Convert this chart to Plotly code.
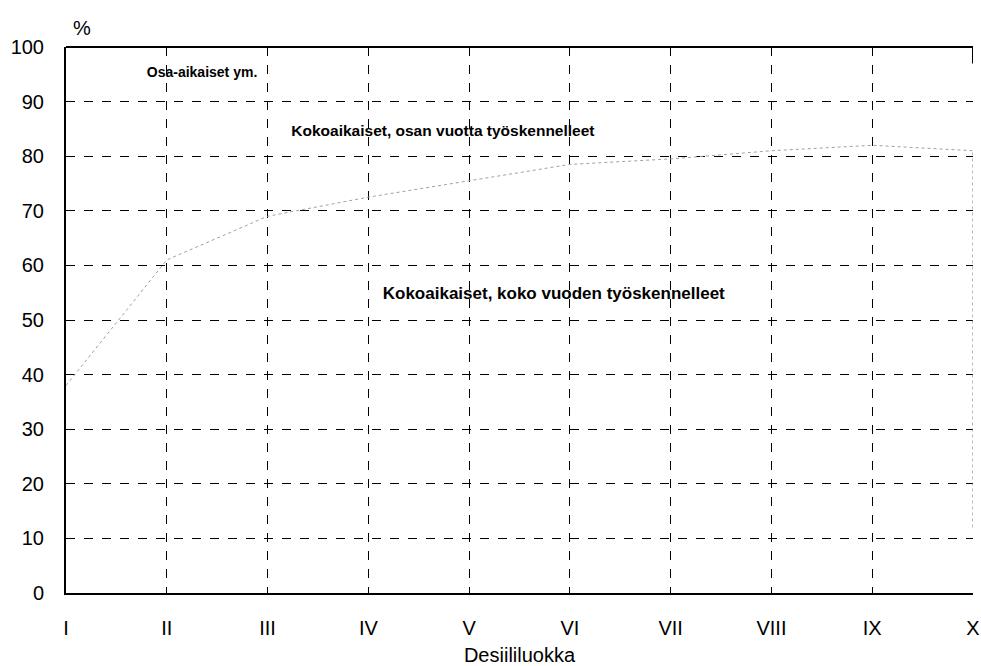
import plotly.graph_objects as go

deciles = [1, 2, 3, 4, 5, 6, 7, 8, 9, 10]
decile_labels = ["I", "II", "III", "IV", "V", "VI", "VII", "VIII", "IX", "X"]
# share of full-time, full-year workers (%), boundary to part-year workers
full_year = [38, 61, 69, 72.5, 75.5, 78.5, 79.5, 81, 82, 81]
y_ticks = [0, 10, 20, 30, 40, 50, 60, 70, 80, 90, 100]

area_labels = ["Osa-aikaiset ym.",
               "Kokoaikaiset, osan vuotta työskennelleet",
               "Kokoaikaiset, koko vuoden työskennelleet"]
label_x = [2.35, 4.74, 5.84]
label_y = [95.2, 84.4, 54.6]
label_size = [14, 15.5, 17]

FONT = "Liberation Sans Narrow, Arial Narrow, Liberation Sans, Arial, sans-serif"

fig = go.Figure()
fig.add_trace(go.Scatter(x=deciles, y=full_year, mode="lines",
                         line=dict(color="#a0a0a0", width=1, dash="dot"),
                         showlegend=False, hoverinfo="skip"))
fig.add_trace(go.Scatter(x=[deciles[-1], deciles[-1]], y=[12, full_year[-1]], mode="lines",
                         line=dict(color="#777777", width=1, dash="dot"),
                         showlegend=False, hoverinfo="skip"))
for t, x, y, s in zip(area_labels, label_x, label_y, label_size):
    fig.add_trace(go.Scatter(x=[x], y=[y], mode="text", text=[t],
                             textfont=dict(family=FONT, size=s, color="black", weight="bold"),
                             showlegend=False, hoverinfo="skip"))

fig.update_xaxes(range=[1, 10], tickvals=deciles, ticktext=decile_labels,
                 showgrid=False,
                 minor=dict(tickvals=deciles[1:-1], showgrid=True, gridcolor="black",
                            griddash="dash", gridwidth=1, ticks=""),
                 showline=True, linecolor="black", linewidth=2, mirror=False,
                 ticks="", tickfont=dict(family=FONT, size=20, color="black"),
                 ticklabelstandoff=16, ticklabeloverflow="allow",
                 zeroline=False, automargin=False,
                 title=dict(text="Desiililuokka", font=dict(family=FONT, size=20, color="black"),
                            standoff=14))
fig.update_yaxes(range=[0, 100], tickvals=y_ticks,
                 showgrid=True, gridcolor="black", griddash="dash", gridwidth=1,
                 showline=True, linecolor="black", linewidth=2,
                 ticks="", tickfont=dict(family=FONT, size=20, color="black"),
                 ticklabelstandoff=16, ticklabeloverflow="allow",
                 zeroline=False, automargin=False)

fig.add_shape(type="line", xref="paper", yref="paper", x0=0, x1=1, y0=1, y1=1,
              line=dict(color="black", width=2))
fig.add_shape(type="line", xref="x", yref="y", x0=10, x1=10, y0=100, y1=97,
              line=dict(color="black", width=2))
fig.add_annotation(text="%", xref="paper", yref="paper", x=0.005, y=1.0, xanchor="left",
                   yanchor="bottom", yshift=6, showarrow=False,
                   font=dict(family=FONT, size=20, color="black"))

fig.update_layout(width=981, height=666, margin=dict(l=66, r=8, t=47, b=73),
                  plot_bgcolor="white", paper_bgcolor="white")
fig.write_html("out.html", config={"displayModeBar": False},
               post_script="document.body.style.margin='0';document.body.style.overflow='hidden';")
